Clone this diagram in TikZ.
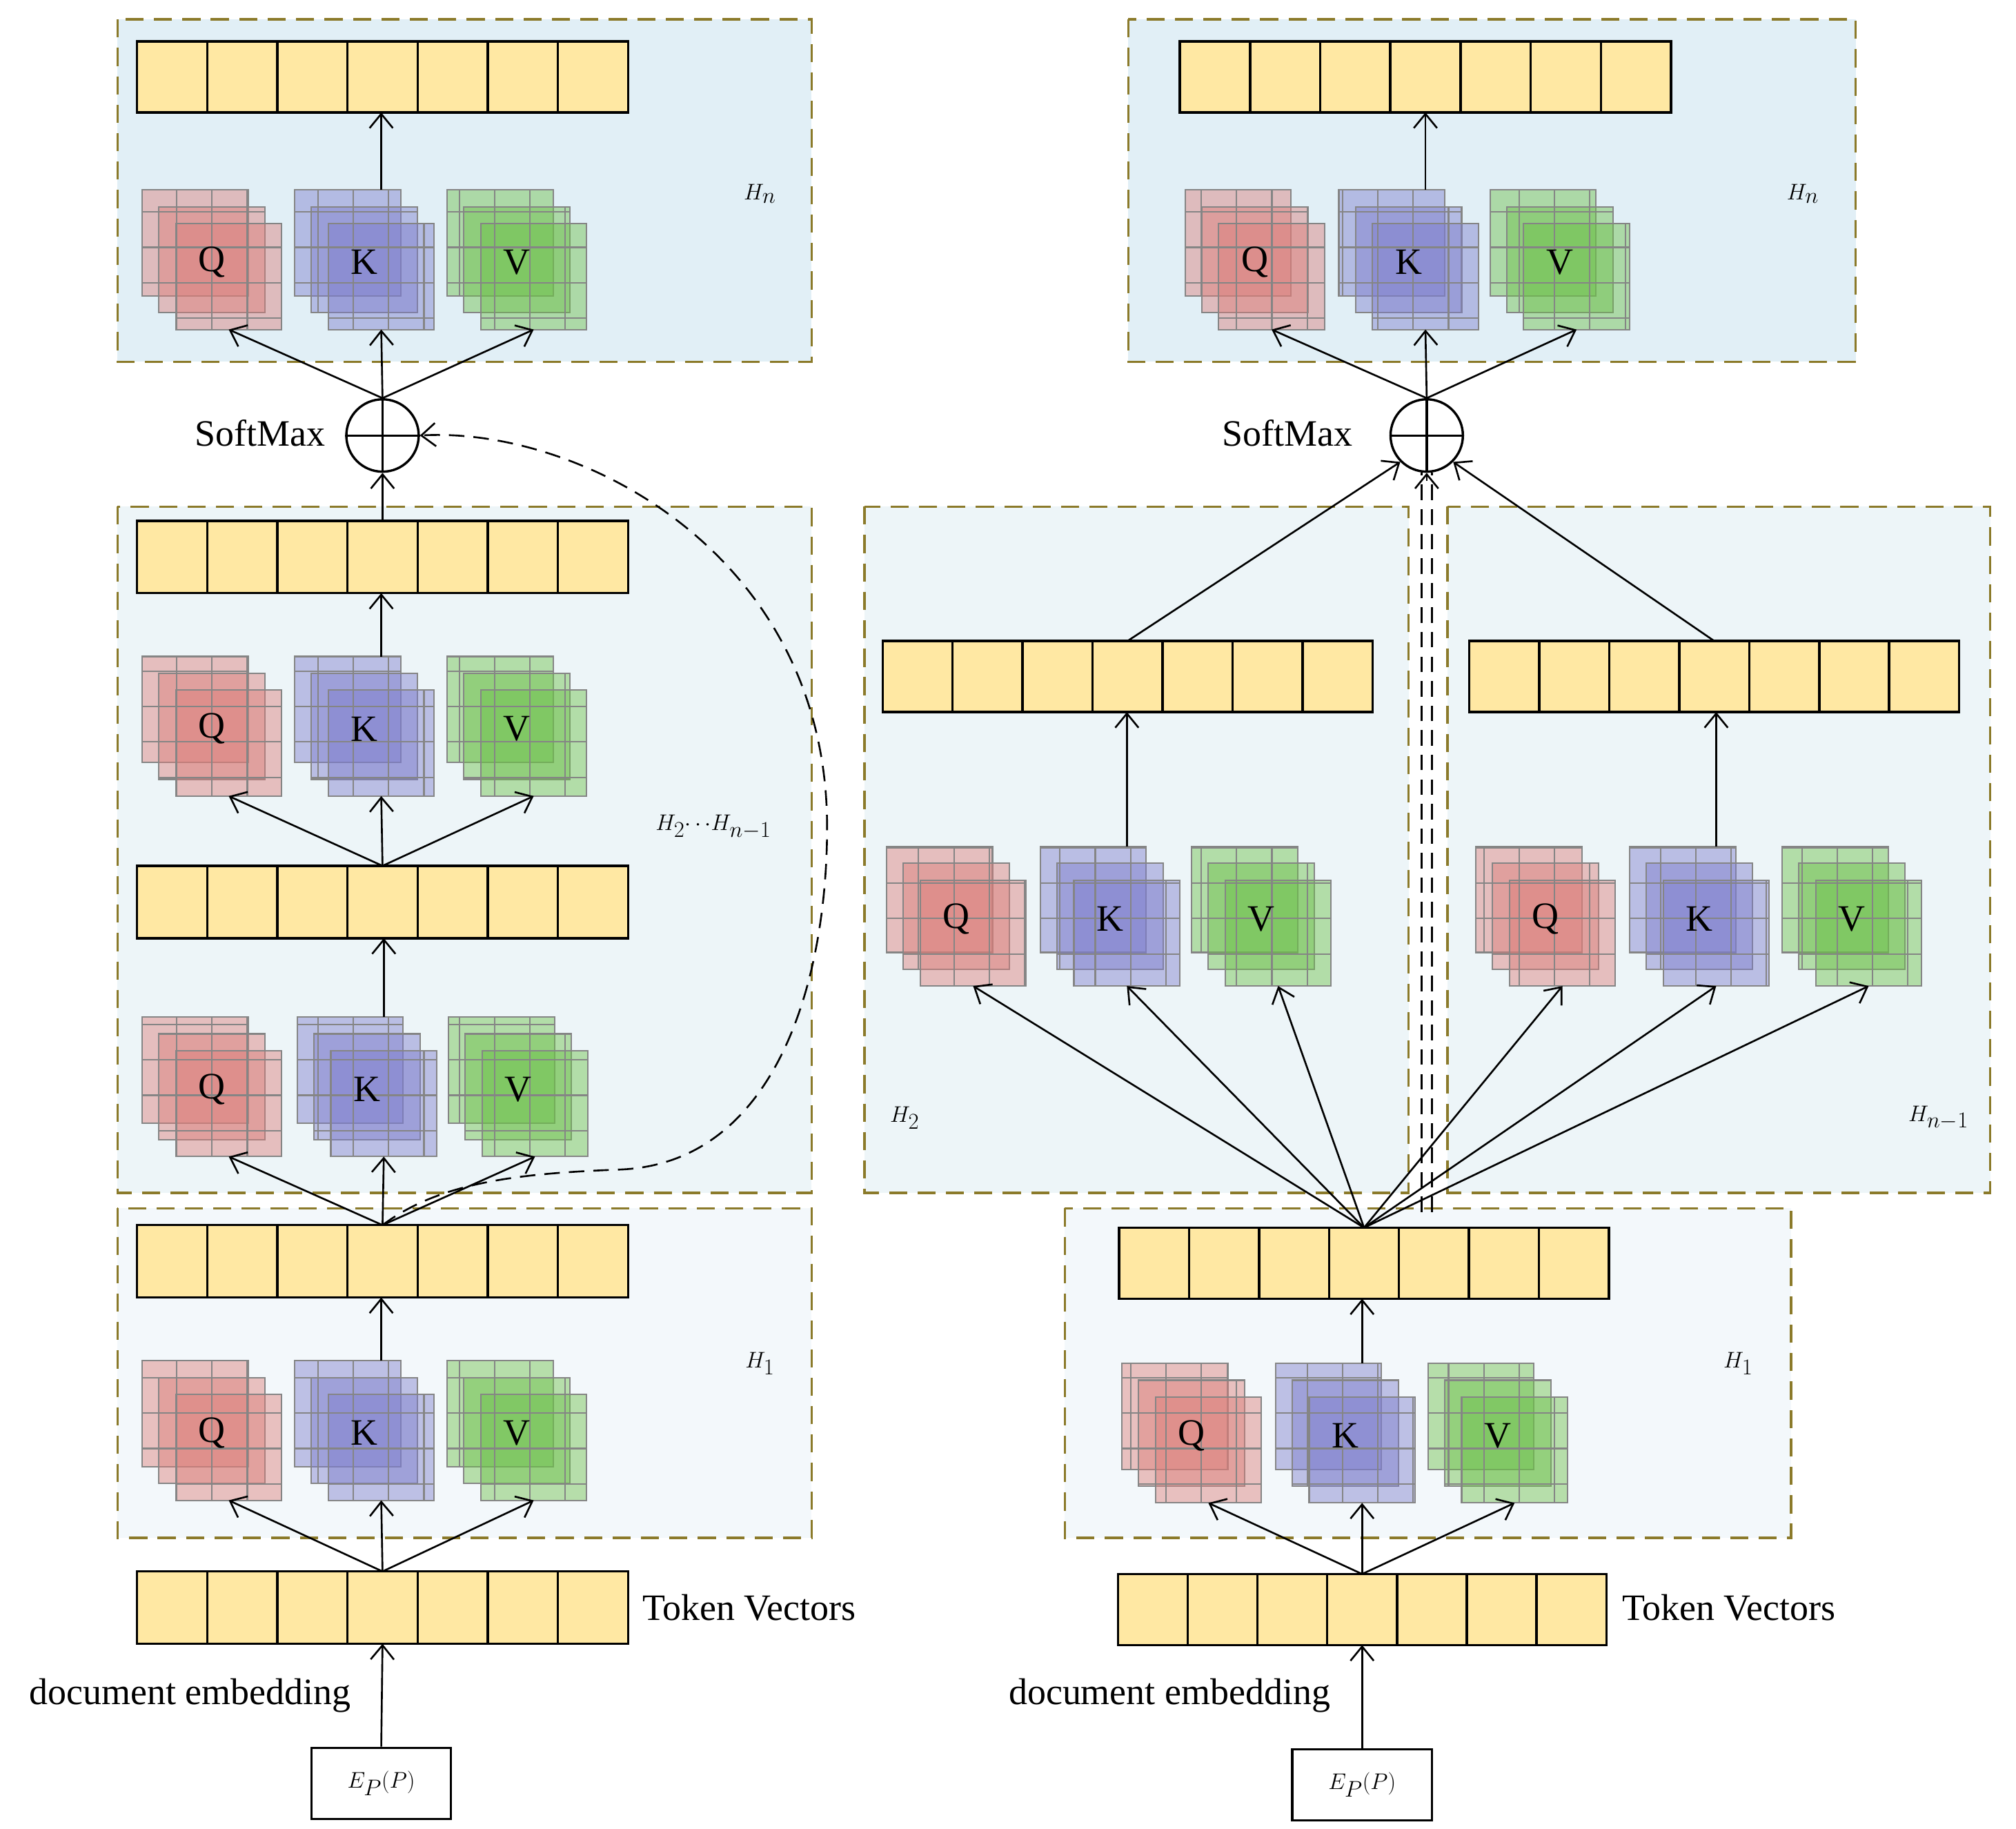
\documentclass[tikz,border=0pt]{standalone}
\usepackage{fontspec}
\setmainfont{Liberation Serif}
\usetikzlibrary{arrows.meta}
\definecolor{boxline}{HTML}{8B7A2A}
\definecolor{bgA}{HTML}{E1EFF6}
\definecolor{bgB}{HTML}{EDF5F8}
\definecolor{bgC}{HTML}{F3F8FB}
\definecolor{vecfill}{HTML}{FFE8A3}
\definecolor{qcol}{HTML}{DC7C78}
\definecolor{kcol}{HTML}{7C7CCC}
\definecolor{vcol}{HTML}{6CC048}
\definecolor{gridc}{HTML}{858585}
\newcommand\mystack[5]{%
  \foreach \k in {0,1,2}{%
    \fill[#4,fill opacity=0.45] ({#2+\k*13},{#3+\k*13}) rectangle ++(82,82);
    \draw[gridc,line width=1.6pt] ({#2+\k*13},{#3+\k*13}) grid[step=1.367cm] ++(82,82);
    \draw[gridc,line width=1.6pt] ({#2+\k*13},{#3+\k*13}) rectangle ++(82,82);
  }%
  \node[lbl] at ({#2+54},{#3+56}) {#5};
  \coordinate (#1b) at ({#2+67},{#3+108});
  \coordinate (#1t) at ({#2+67},{#3});
}
\newcommand\myvec[5]{%
  \draw[line width=2.6pt,fill=vecfill] (#2,#3) rectangle (#4,#5);
  \foreach \i in {1,...,6}{\draw[line width=2.6pt] ({#2+\i*(#4-#2)/7},#3) -- ({#2+\i*(#4-#2)/7},#5);}
  \coordinate (#1t) at ({(#2+#4)/2},#3);
  \coordinate (#1b) at ({(#2+#4)/2},#5);
}
\begin{document}
\begin{tikzpicture}[x=0.05cm,y=-0.05cm,
  lbl/.style={font=\fontsize{41}{48}\selectfont,inner sep=0},
  hbox/.style={draw=boxline,line width=2.6pt,dash pattern=on 0.7cm off 0.4cm},
  arr/.style={line width=2pt,-{Straight Barb[length=0.55cm,width=0.9cm]}},
  mydash/.style={line width=2pt,dash pattern=on 0.6cm off 0.35cm}]
\useasboundingbox (0,0) rectangle (1560,1415);
% backgrounds
\draw[hbox,fill=bgA] (91,15) rectangle (628,280);
\draw[hbox,fill=bgB] (91,392) rectangle (628,923);
\draw[hbox,fill=bgC] (91,935) rectangle (628,1190);
\draw[hbox,fill=bgA] (873,15) rectangle (1436,280);
\draw[hbox,fill=bgB] (669,392) rectangle (1090,923);
\draw[hbox,fill=bgB] (1120,392) rectangle (1540,923);
\draw[hbox,fill=bgC] (824,935) rectangle (1386,1190);
% ---------- left
\myvec{LA}{106}{32}{486}{87}
\mystack{LAq}{110}{147}{qcol}{Q}
\mystack{LAk}{228}{147}{kcol}{K}
\mystack{LAv}{346}{147}{vcol}{V}
\node[lbl] at (588,150) {$H_n$};
\node[circle,draw,line width=2.6pt,minimum size=2.8cm,inner sep=0] (Lc) at (296,337) {};
\draw[line width=2.6pt] (Lc.north)--(Lc.south) (Lc.west)--(Lc.east);
\node[lbl,anchor=east] at (252,335) {SoftMax};
\draw[arr] (LAkt) -- (LAb -| LAkt);
\draw[arr] (Lc.north) -- (LAqb);
\draw[arr] (Lc.north) -- (LAkb);
\draw[arr] (Lc.north) -- (LAvb);
\myvec{LB}{106}{403}{486}{459}
\draw[arr] (LBt) -- (Lc.south);
\mystack{LBq}{110}{508}{qcol}{Q}
\mystack{LBk}{228}{508}{kcol}{K}
\mystack{LBv}{346}{508}{vcol}{V}
\draw[arr] (LBkt) -- (LBb -| LBkt);
\myvec{LC}{106}{670}{486}{726}
\draw[arr] (LCt) -- (LBqb);
\draw[arr] (LCt) -- (LBkb);
\draw[arr] (LCt) -- (LBvb);
\mystack{LCq}{110}{787}{qcol}{Q}
\mystack{LCk}{230}{787}{kcol}{K}
\mystack{LCv}{347}{787}{vcol}{V}
\draw[arr] (LCkt) -- (LCb -| LCkt);
\node[lbl] at (552,640) {$H_2{\cdots}H_{n-1}$};
\myvec{LD}{106}{948}{486}{1004}
\draw[arr] (LDt) -- (LCqb);
\draw[arr] (LDt) -- (LCkb);
\draw[arr] (LDt) -- (LCvb);
\draw[mydash,-{Straight Barb[length=0.55cm,width=0.9cm]}] (LDt) .. controls (340,915) and (400,908) .. (480,905) .. controls (600,900) and (640,760) .. (640,640) .. controls (640,430) and (450,330) .. (Lc.east);
\mystack{LDq}{110}{1053}{qcol}{Q}
\mystack{LDk}{228}{1053}{kcol}{K}
\mystack{LDv}{346}{1053}{vcol}{V}
\draw[arr] (LDkt) -- (LDb -| LDkt);
\node[lbl] at (588,1055) {$H_1$};
\myvec{LE}{106}{1216}{486}{1272}
\node[lbl,anchor=west] at (497,1244) {Token Vectors};
\draw[arr] (LEt) -- (LDqb);
\draw[arr] (LEt) -- (LDkb);
\draw[arr] (LEt) -- (LDvb);
\node[draw,line width=2.6pt,minimum width=5.4cm,minimum height=2.75cm,lbl] (LP) at (295,1380) {$E_P(P)$};
\draw[arr] (LP.north) -- (LEb);
\node[lbl] at (147,1312) {document embedding};
% ---------- right
\myvec{RA}{913}{32}{1293}{87}
\mystack{RAq}{917}{147}{qcol}{Q}
\mystack{RAk}{1036}{147}{kcol}{K}
\mystack{RAv}{1153}{147}{vcol}{V}
\node[lbl] at (1395,150) {$H_n$};
\node[circle,draw,line width=2.6pt,minimum size=2.8cm,inner sep=0] (Rc) at (1104,337) {};
\draw[line width=2.6pt] (Rc.north)--(Rc.south) (Rc.west)--(Rc.east);
\node[lbl,anchor=east] at (1047,335) {SoftMax};
\draw[arr] (RAkt) -- (RAb -| RAkt);
\draw[arr] (Rc.north) -- (RAqb);
\draw[arr] (Rc.north) -- (RAkb);
\draw[arr] (Rc.north) -- (RAvb);
\myvec{RB}{683}{496}{1062}{551}
\mystack{RBq}{686}{655}{qcol}{Q}
\mystack{RBk}{805}{655}{kcol}{K}
\mystack{RBv}{922}{655}{vcol}{V}
\draw[arr] (RBkt) -- (RBb -| RBkt);
\node[lbl] at (700,865) {$H_2$};
\myvec{RC}{1137}{496}{1516}{551}
\mystack{RCq}{1142}{655}{qcol}{Q}
\mystack{RCk}{1261}{655}{kcol}{K}
\mystack{RCv}{1379}{655}{vcol}{V}
\draw[arr] (RCkt) -- (RCb -| RCkt);
\node[lbl] at (1500,865) {$H_{n-1}$};
\draw[arr] (RBt) -- (Rc.south west);
\draw[arr] (RCt) -- (Rc.south east);
\myvec{RD}{866}{950}{1245}{1005}
\coordinate (dL1) at (1100,938);
\coordinate (dL2) at (1108,938);
\draw[mydash] (dL1) -- (dL1 |- Rc.south);
\draw[mydash] (dL2) -- (dL2 |- Rc.south);
\draw[arr] ([yshift=-0.3cm]Rc.south) -- (Rc.south);
\foreach \s in {RBq,RBk,RBv,RCq,RCk,RCv}{\draw[line width=2pt,-{Straight Barb[length=0.55cm,width=0.9cm]}] (RDt) -- (\s b);}
\mystack{RDq}{868}{1055}{qcol}{Q}
\mystack{RDk}{987}{1055}{kcol}{K}
\mystack{RDv}{1105}{1055}{vcol}{V}
\draw[arr] (RDkt) -- (RDb -| RDkt);
\node[lbl] at (1345,1055) {$H_1$};
\myvec{RE}{865}{1218}{1243}{1273}
\node[lbl,anchor=west] at (1255,1244) {Token Vectors};
\draw[arr] (REt) -- (RDqb);
\draw[arr] (REt) -- (RDkb);
\draw[arr] (REt) -- (RDvb);
\node[draw,line width=2.6pt,minimum width=5.4cm,minimum height=2.75cm,lbl] (RP) at (1054,1381) {$E_P(P)$};
\draw[arr] (RP.north) -- (REb);
\node[lbl] at (905,1312) {document embedding};
\end{tikzpicture}
\end{document}
